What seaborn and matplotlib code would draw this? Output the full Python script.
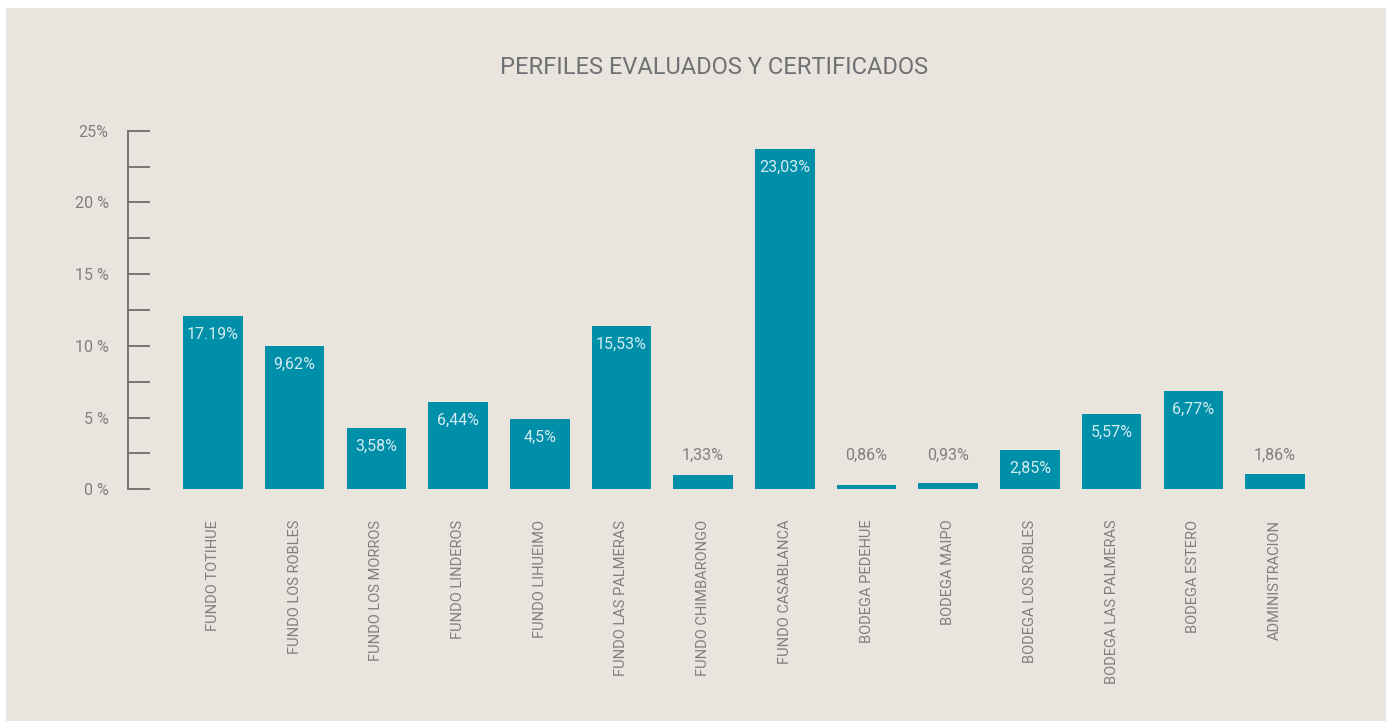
import matplotlib
matplotlib.use("Agg")
import matplotlib.pyplot as plt
from matplotlib.patches import Rectangle
import pandas as pd
import seaborn as sns

# categorías y valores (alturas de barra, etiquetas tal como aparecen)
centros = ['FUNDO TOTIHUE', 'FUNDO LOS ROBLES', 'FUNDO LOS MORROS', 'FUNDO LINDEROS',
           'FUNDO LIHUEIMO', 'FUNDO LAS PALMERAS', 'FUNDO CHIMBARONGO', 'FUNDO CASABLANCA',
           'BODEGA PEDEHUE', 'BODEGA MAIPO', 'BODEGA LOS ROBLES', 'BODEGA LAS PALMERAS',
           'BODEGA ESTERO', 'ADMINISTRACION']
alturas = [12.08, 9.99, 4.27, 6.09, 4.90, 11.39, 1.00, 23.74, 0.30, 0.44, 2.74, 5.26, 6.87, 1.07]
etiquetas = ['17.19%', '9,62%', '3,58%', '6,44%', '4,5%', '15,53%', '1,33%', '23,03%',
             '0,86%', '0,93%', '2,85%', '5,57%', '6,77%', '1,86%']
ticks_y = [0, 5, 10, 15, 20, 25]
ticks_y_txt = ['0 %', '5 %', '10 %', '15 %', '20 %', '25%']

FONDO = '#E9E4DE'
AZUL = '#008FA9'
GRIS = '#7F7F7F'

df = pd.DataFrame({'centro': centros, 'valor': alturas})

sns.set_style('white')
plt.rcParams['font.family'] = ['Roboto', 'DejaVu Sans']

fig = plt.figure(figsize=(13.86, 7.21), dpi=100, facecolor='white')
fig.patches.append(Rectangle((6 / 1386, 0), 1, (721 - 8) / 721, transform=fig.transFigure,
                             facecolor=FONDO, edgecolor='none', zorder=-10))
ax = fig.add_axes([128 / 1386, 1 - 489.3 / 721, (1320 - 128) / 1386, (489.3 - 130.7) / 721])
ax.set_facecolor(FONDO)
ax.patch.set_alpha(0)

sns.barplot(data=df, x='centro', y='valor', color=AZUL, saturation=1, width=0.73,
            linewidth=0, edgecolor='none', ax=ax, zorder=2)

ax.set_ylim(0, 25)
ax.set_xlim(-1.04, 13.55)

for i, (v, t) in enumerate(zip(alturas, etiquetas)):
    if v > 2:
        ax.text(i, v - 1.3, t, ha='center', va='center', color='#D2ECF1', fontsize=11.5)
    else:
        ax.text(i, 2.35, t, ha='center', va='center', color=GRIS, fontsize=11.5)

# eje y con marcas hacia dentro
for s in ['top', 'right', 'bottom']:
    ax.spines[s].set_visible(False)
ax.spines['left'].set_color('#6E6E6E')
ax.spines['left'].set_linewidth(1.3)
ax.set_yticks(ticks_y)
ax.set_yticklabels(ticks_y_txt)
ax.set_yticks([2.5, 7.5, 12.5, 17.5, 22.5], minor=True)
ax.tick_params(axis='y', which='both', left=True, direction='in', length=16, width=1.3,
               color='#6E6E6E', labelcolor=GRIS, labelsize=11.5, pad=14)

ax.tick_params(axis='x', length=0, labelcolor=GRIS, labelsize=10.5, pad=22)
plt.setp(ax.get_xticklabels(), rotation=90, va='top', ha='center')
ax.set_xlabel('')
ax.set_ylabel('')

fig.text(714 / 1386, 1 - 67 / 721, 'PERFILES EVALUADOS Y CERTIFICADOS', ha='center',
         va='center', fontsize=17, color='#6F7275')

fig.savefig('out.png', dpi=100, facecolor='white')
